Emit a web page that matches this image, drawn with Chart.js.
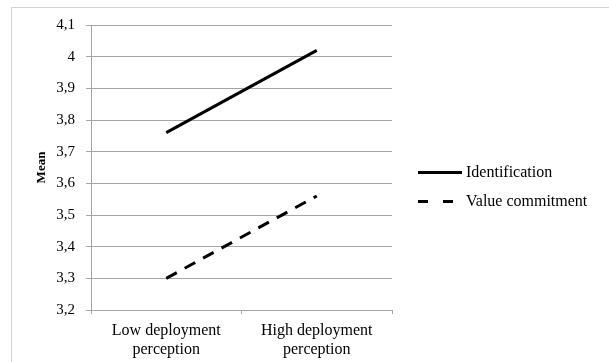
<!DOCTYPE html>
<html lang="en">
  <head>
    <meta charset="UTF-8" />
    <title>Mean by deployment perception</title>
    <style>
      * {
        margin: 0;
        padding: 0;
        box-sizing: border-box;
      }
      body {
        width: 609px;
        height: 362px;
        overflow: hidden;
        background: white;
        position: relative;
      }
      .frame {
        position: absolute;
        left: 11px;
        top: 7px;
        width: 640px;
        height: 400px;
        border: 1px solid #d4d4d4;
      }
      canvas {
        position: absolute;
        left: 0;
        top: 0;
      }
    </style>
  </head>
  <body>
    <div class="frame"></div>
    <canvas id="myChart" width="609" height="362"></canvas>

    <script src="https://cdn.jsdelivr.net/npm/chart.js"></script>
    <script>
      const categories = [
        ["Low deployment", "perception"],
        ["High deployment", "perception"],
      ];
      const identification = [3.76, 4.02];
      const valueCommitment = [3.3, 3.56];
      const yTicks = [3.2, 3.3, 3.4, 3.5, 3.6, 3.7, 3.8, 3.9, 4, 4.1];

      const serif = '"Liberation Serif", "Times New Roman", serif';
      Chart.defaults.font.family = serif;
      Chart.defaults.color = "#000";

      const gridColor = "#a6a6a6";

      // legend drawn to the right of the plot, like the original
      const sideLegend = {
        id: "sideLegend",
        afterDraw(chart) {
          const { ctx, chartArea } = chart;
          const x0 = chartArea.right + 26;
          const mid = (chartArea.top + chartArea.bottom) / 2;
          ctx.save();
          ctx.font = "16px " + serif;
          ctx.textBaseline = "middle";
          ctx.fillStyle = "#000";
          chart.data.datasets.forEach((ds, i) => {
            const y = mid + 5 + i * 29;
            ctx.beginPath();
            ctx.lineWidth = 3;
            ctx.strokeStyle = ds.borderColor;
            ctx.setLineDash(ds.legendDash || []);
            ctx.moveTo(x0, y);
            ctx.lineTo(x0 + 44, y);
            ctx.stroke();
            ctx.setLineDash([]);
            ctx.fillText(ds.label, x0 + 48, y);
          });
          ctx.restore();
        },
      };

      const config = {
        type: "line",
        data: {
          labels: categories,
          datasets: [
            {
              label: "Identification",
              data: identification,
              borderColor: "#000",
              borderWidth: 3,
              pointRadius: 0,
              tension: 0,
            },
            {
              label: "Value commitment",
              data: valueCommitment,
              borderColor: "#000",
              borderWidth: 3,
              borderDash: [12, 9],
              legendDash: [10, 15],
              pointRadius: 0,
              tension: 0,
            },
          ],
        },
        options: {
          responsive: false,
          animation: false,
          layout: {
            padding: { left: 0, top: 25, right: 217, bottom: 0 },
          },
          plugins: {
            legend: { display: false },
            tooltip: { enabled: false },
          },
          scales: {
            x: {
              offset: true,
              grid: {
                offset: true,
                drawOnChartArea: false,
                drawTicks: true,
                tickLength: 4,
                color: gridColor,
              },
              border: { color: gridColor },
              ticks: {
                font: { size: 16, lineHeight: 1.2 },
                padding: 7,
                maxRotation: 0,
              },
              afterFit(scale) {
                scale.height = 52;
              },
            },
            y: {
              min: 3.2,
              max: 4.1,
              grid: {
                color: gridColor,
                tickLength: 5,
              },
              border: { color: gridColor },
              ticks: {
                font: { size: 15 },
                padding: 11,
                callback: (v) => String(Number(v.toFixed(1))).replace(".", ","),
              },
              afterBuildTicks(scale) {
                scale.ticks = yTicks.map((v) => ({ value: v }));
              },
              afterFit(scale) {
                scale.width = 91;
              },
              title: {
                display: true,
                text: "Mean",
                font: { size: 13, weight: "bold" },
                padding: { top: 34, bottom: 0 },
              },
            },
          },
        },
        plugins: [sideLegend],
      };

      const myChart = new Chart(document.getElementById("myChart"), config);
    </script>
  </body>
</html>
